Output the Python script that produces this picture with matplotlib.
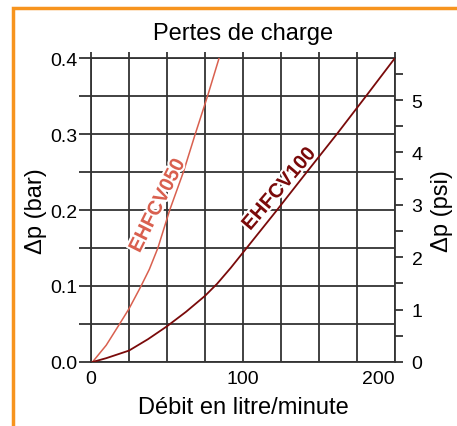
import numpy as np
import matplotlib
matplotlib.use('Agg')
import matplotlib.pyplot as plt
import matplotlib.patheffects as pe
from matplotlib.patches import Rectangle

plt.rcParams['font.family'] = ['Liberation Sans', 'DejaVu Sans']

# EHFCV050 curve, flow (l/min) vs pressure drop (bar)
q050 = [1, 10, 18.8, 25, 32.7, 38.4, 44, 51.8, 60.8, 68.6, 76.7, 84.3]
dp050 = [0, 0.022, 0.05, 0.0700, 0.099, 0.122, 0.15, 0.2, 0.25, 0.3, 0.35, 0.4]

# EHFCV100 curve
q100 = [1, 10, 25, 37.5, 50, 62.5, 75, 83, 92, 102, 112, 122, 142, 161.8, 181, 200]
dp100 = [0, 0.005, 0.015, 0.030, 0.047, 0.066, 0.087, 0.103, 0.124, 0.149, 0.174, 0.199,
         0.25, 0.3, 0.35, 0.4]

bar_to_psi = 14.5038
xticks = [0, 100, 200]
yticks = [0.0, 0.1, 0.2, 0.3, 0.4]
psi_ticks = [0, 1, 2, 3, 4, 5]

col050 = '#d9604f'
col100 = '#7a0a0a'
gridc = '#333333'

fig = plt.figure(figsize=(4.57, 4.27), dpi=100)
ax = fig.add_axes([0.1991, 0.1499, 0.8643 - 0.1991, 0.8618 - 0.1499])

ax.plot(q050, dp050, color=col050, lw=1.1, zorder=3)
ax.plot(q100, dp100, color=col100, lw=1.3, zorder=3)

ax.set_xlim(0, 200)
ax.set_ylim(0, 0.4)
ax.set_xticks(np.arange(0, 201, 25), minor=True)
ax.set_yticks(np.arange(0, 0.401, 0.05), minor=True)
ax.set_xticks(xticks)
ax.set_yticks(yticks)
ax.set_xticklabels(['0', '100', '200'], fontsize=14)
ax.set_yticklabels(['0.0', '0.1', '0.2', '0.3', '0.4'], fontsize=14)
ax.get_xticklabels()[-1].set_horizontalalignment('right')
ax.grid(True, which='both', color=gridc, lw=1.3)
ax.tick_params(axis='x', which='both', bottom=False, top=True, length=4, width=1.3,
               color=gridc, pad=2, labelbottom=True)
ax.tick_params(axis='y', which='both', left=True, length=9, width=1.3, color=gridc, pad=1)
for s in ax.spines.values():
    s.set_color(gridc)
    s.set_linewidth(1.3)

ax2 = ax.twinx()
ax2.set_ylim(0, 0.4 * bar_to_psi)
ax2.set_yticks(psi_ticks)
ax2.set_yticklabels([str(t) for t in psi_ticks], fontsize=14)
ax2.set_yticks(np.arange(0.5, 5.8, 1.0), minor=True)
ax2.tick_params(axis='y', which='both', length=6, width=1.3, color=gridc, pad=6)
for s in ax2.spines.values():
    s.set_visible(False)

ax.set_xlabel('Débit en litre/minute', fontsize=17, labelpad=6)
ax.set_ylabel('Δp (bar)', fontsize=17, labelpad=2)
ax2.set_ylabel('Δp (psi)', fontsize=17, labelpad=6)
ax.set_title('Pertes de charge', fontsize=17, pad=14)

halo = [pe.withStroke(linewidth=3, foreground='white')]
ax.text(43.7, 0.2057, 'EHFCV050', color=col050, fontsize=14.5, fontweight='bold',
        rotation=63.5, ha='center', va='center', path_effects=halo, zorder=4,
        rotation_mode='anchor')
ax.text(123.7, 0.2276, 'EHFCV100', color=col100, fontsize=14.5, fontweight='bold',
        rotation=49.5, ha='center', va='center', path_effects=halo, zorder=4,
        rotation_mode='anchor')

fig.patches.append(Rectangle((13 / 457, -0.1), 1.2, 1 - 9 / 427 + 0.1,
                             transform=fig.transFigure, fill=False,
                             edgecolor='#f7941e', lw=2.5))

fig.savefig('out.png', dpi=100)
